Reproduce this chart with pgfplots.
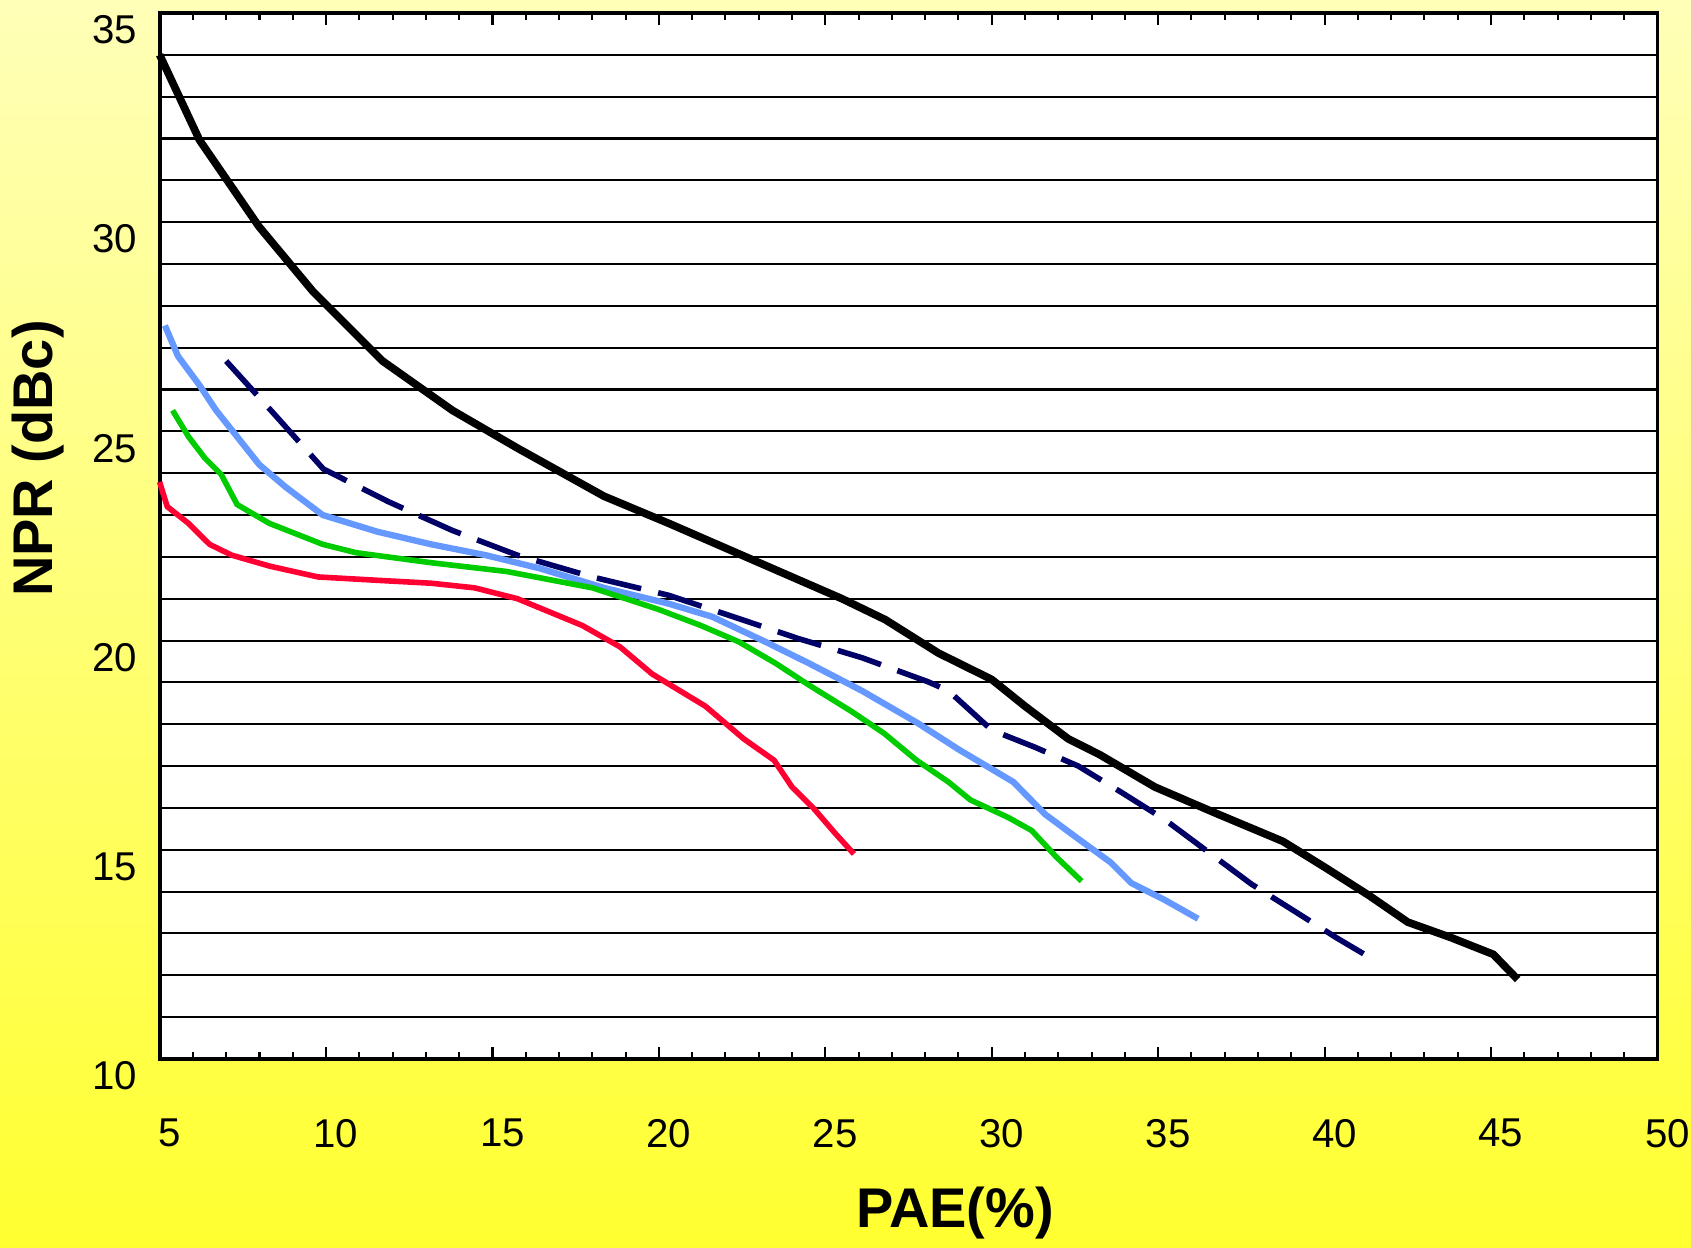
\documentclass[border=0pt]{standalone}
\usepackage{pgfplots}
\pgfplotsset{compat=1.18}
\usepackage{fontspec}
\setmainfont{Liberation Sans}
\definecolor{bgtop}{HTML}{FFFFB8}
\definecolor{bgbot}{HTML}{FFFF30}
\definecolor{cred}{HTML}{FF0033}
\definecolor{cgreen}{HTML}{00CC00}
\definecolor{cblue}{HTML}{6699FF}
\definecolor{cnavy}{HTML}{000066}
\begin{document}
\begin{tikzpicture}
\shade[top color=bgtop, bottom color=bgbot] (-1.6045cm,-1.897cm) rectangle (15.3955cm,10.646cm);
\begin{axis}[
  at={(0,0)}, anchor=south west,
  scale only axis, width=15.058cm, height=10.516cm,
  xmin=5, xmax=50, ymin=10, ymax=35,
  axis background/.style={fill=white},
  xtick={5,10,...,50}, minor xtick={6,7,8,9,11,12,13,14,16,17,18,19,21,22,23,24,26,27,28,29,31,32,33,34,36,37,38,39,41,42,43,44,46,47,48,49},
  ytick={10,15,...,35}, minor ytick={11,...,34},
  ymajorgrids, yminorgrids,
  major grid style={black, line width=0.6pt},
  minor grid style={black, line width=0.6pt},
  tick align=inside,
  major tick length=0.12cm, minor tick length=0.07cm,
  tick style={black, line width=0.6pt},
  axis line style={black, line width=1.1pt},
  /pgf/number format/assume math mode=true,
  tick label style={font=\fontsize{11.5}{13}\selectfont},
  xticklabel style={yshift=-0.48cm, xshift=0.1cm},
  yticklabel style={yshift=-0.17cm, xshift=-0.1cm},
  xlabel={\textbf{PAE(\%)}},
  ylabel={\textbf{NPR (dBc)}},
  label style={font=\fontsize{16}{19}\selectfont},
  xlabel style={at={(axis description cs:0.531,-0.147)}, anchor=center},
  ylabel style={at={(axis description cs:-0.0814,0.574)}, anchor=center, rotate=0},
  clip=false,
]
% black
\addplot[black, line width=2.2pt] coordinates {
(5,34.0) (6.2,31.96) (7.98,29.9) (9.6,28.35) (11.7,26.68) (13.8,25.5) (15.75,24.6)
(18.35,23.45) (20.3,22.8) (22.9,21.9) (25.5,21.0) (26.8,20.5) (28.4,19.7) (30.0,19.07)
(31.0,18.43) (32.3,17.65) (33.25,17.27) (34.9,16.5) (36.8,15.85) (38.75,15.2) (40.05,14.56)
(41.35,13.9) (42.5,13.27) (43.8,12.9) (45.07,12.5) (45.8,11.9)};
% light blue
\addplot[cblue, line width=1.8pt] coordinates {
(5.16,27.53) (5.55,26.8) (6.2,26.1) (6.7,25.5) (7.33,24.87) (8.0,24.2) (8.8,23.66)
(9.9,23.0) (11.55,22.6) (13.16,22.3) (14.8,22.04) (16.4,21.73) (18.35,21.26) (20.3,20.88)
(21.6,20.57) (23.2,19.97) (24.5,19.46) (26.1,18.8) (27.75,18.04) (29.0,17.4) (30.65,16.62)
(31.6,15.85) (32.6,15.26) (33.57,14.7) (34.2,14.2) (35.2,13.8) (36.2,13.35)};
% green
\addplot[cgreen, line width=1.6pt] coordinates {
(5.39,25.5) (5.87,24.87) (6.36,24.36) (6.85,23.97) (7.33,23.25) (8.3,22.8) (9.9,22.3)
(10.9,22.1) (13.16,21.86) (15.43,21.65) (18.0,21.26) (19.97,20.75) (21.26,20.36) (22.4,19.97)
(23.5,19.46) (24.5,18.94) (25.8,18.3) (26.77,17.78) (27.74,17.14) (28.7,16.62) (29.36,16.19)
(30.5,15.77) (31.2,15.46) (31.95,14.82) (32.7,14.25)};
% red
\addplot[cred, line width=1.6pt] coordinates {
(5.0,23.79) (5.23,23.2) (5.87,22.8) (6.5,22.3) (7.17,22.04) (8.3,21.78) (9.76,21.52)
(11.54,21.44) (13.16,21.37) (14.46,21.26) (15.75,21.0) (17.7,20.36) (18.83,19.85) (19.8,19.2)
(21.4,18.43) (22.55,17.65) (23.46,17.14) (24.0,16.5) (24.66,15.98) (25.3,15.39) (25.86,14.9)};
% navy dashed
\addplot[cnavy, line width=1.6pt, dash pattern=on 13pt off 5pt] coordinates {
(7.0,26.68) (8.47,25.39) (9.92,24.1) (11.87,23.32) (13.8,22.63) (15.75,22.04) (18.0,21.52)
(20.3,21.08) (22.23,20.57) (24.18,20.05) (26.1,19.59) (28.07,19.02) (28.7,18.8) (30.0,17.86)
(31.3,17.45) (32.6,17.0) (33.9,16.37) (35.2,15.72) (36.5,14.95) (37.8,14.18) (39.1,13.53)
(40.37,12.89) (41.2,12.5)};
\end{axis}
\pgfresetboundingbox
\path[use as bounding box] (-1.6045cm,-1.897cm) rectangle (15.3955cm,10.646cm);
\end{tikzpicture}
\end{document}
